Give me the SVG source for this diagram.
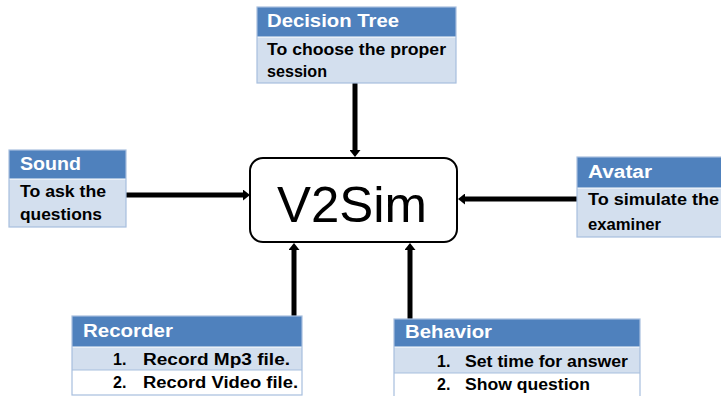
<svg xmlns="http://www.w3.org/2000/svg" width="721" height="396" viewBox="0 0 721 396">
<defs>
<style>
.hdr{fill:#4F81BD}
.body{fill:#D3DFEE}
.wrow{fill:#FFFFFF}
.frame{fill:none;stroke:#A7BFDE;stroke-width:1.2}
.sep{stroke:#FFFFFF;stroke-width:1}
.sepb{stroke:#A7BFDE;stroke-width:1}
.ht{font-family:"Liberation Sans",Arial,sans-serif;font-weight:bold;font-size:18px;fill:#FFFFFF}
.bt{font-family:"Liberation Sans",Arial,sans-serif;font-weight:bold;font-size:16px;fill:#000000}
.conn{stroke:#000000;stroke-width:5;fill:none;marker-end:url(#ah)}
</style>
<marker id="ah" markerUnits="userSpaceOnUse" markerWidth="7" markerHeight="11" refX="1" refY="5.5" orient="auto" viewBox="0 0 7 11">
<path d="M0,0 L7,5.5 L0,11 z" fill="#000000"/>
</marker>
</defs>
<rect width="721" height="396" fill="#FFFFFF"/>

<g id="connectors">
<line class="conn" x1="355" y1="83" x2="355" y2="151"/>
<line class="conn" x1="126" y1="195" x2="244" y2="195"/>
<line class="conn" x1="577" y1="199" x2="464" y2="199"/>
<line class="conn" x1="294" y1="318" x2="294" y2="249"/>
<line class="conn" x1="410" y1="319" x2="410" y2="249"/>
</g>

<g id="v2sim">
<rect x="250" y="158" width="207" height="84" rx="13" ry="13" fill="#FFFFFF" stroke="#000000" stroke-width="2"/>
<text x="352" y="222" text-anchor="middle" font-family="'Liberation Sans',Arial,sans-serif" font-size="50" fill="#000000" textLength="150" lengthAdjust="spacingAndGlyphs">V2Sim</text>
</g>

<g id="decision-tree">
<rect class="hdr" x="257" y="7" width="199" height="30"/>
<rect class="body" x="257" y="37" width="199" height="46"/>
<line class="sep" x1="257" y1="37" x2="456" y2="37"/>
<rect class="frame" x="257" y="7" width="199" height="76"/>
<text class="ht" x="267" y="27" textLength="132" lengthAdjust="spacingAndGlyphs">Decision Tree</text>
<text class="bt" x="267" y="55" textLength="179" lengthAdjust="spacingAndGlyphs">To choose the proper</text>
<text class="bt" x="267" y="77" textLength="60" lengthAdjust="spacingAndGlyphs">session</text>
</g>

<g id="sound">
<rect class="hdr" x="9" y="150" width="117" height="29"/>
<rect class="body" x="9" y="179" width="117" height="48"/>
<line class="sep" x1="9" y1="179" x2="126" y2="179"/>
<rect class="frame" x="9" y="150" width="117" height="77"/>
<text class="ht" x="20" y="170" textLength="61" lengthAdjust="spacingAndGlyphs">Sound</text>
<text class="bt" x="20" y="197" textLength="86" lengthAdjust="spacingAndGlyphs">To ask the</text>
<text class="bt" x="20" y="220" textLength="82" lengthAdjust="spacingAndGlyphs">questions</text>
</g>

<g id="avatar">
<rect class="hdr" x="577" y="157" width="150" height="31"/>
<rect class="body" x="577" y="188" width="150" height="49"/>
<line class="sep" x1="577" y1="188" x2="727" y2="188"/>
<rect class="frame" x="577" y="157" width="150" height="80"/>
<text class="ht" x="588" y="178" textLength="64" lengthAdjust="spacingAndGlyphs">Avatar</text>
<text class="bt" x="588" y="205" textLength="131" lengthAdjust="spacingAndGlyphs">To simulate the</text>
<text class="bt" x="588" y="230" textLength="73" lengthAdjust="spacingAndGlyphs">examiner</text>
</g>

<g id="recorder">
<rect class="hdr" x="72" y="316" width="230" height="31"/>
<rect class="body" x="72" y="347" width="230" height="23"/>
<rect class="wrow" x="72" y="370" width="230" height="25"/>
<line class="sep" x1="72" y1="347" x2="302" y2="347"/>
<line class="sepb" x1="72" y1="370" x2="302" y2="370"/>
<rect class="frame" x="72" y="316" width="230" height="79"/>
<text class="ht" x="83" y="337" textLength="90" lengthAdjust="spacingAndGlyphs">Recorder</text>
<text class="bt" x="113" y="365">1.</text>
<text class="bt" x="143" y="365" textLength="147" lengthAdjust="spacingAndGlyphs">Record Mp3 file.</text>
<text class="bt" x="113" y="388">2.</text>
<text class="bt" x="143" y="388" textLength="155" lengthAdjust="spacingAndGlyphs">Record Video file.</text>
</g>

<g id="behavior">
<rect class="hdr" x="394" y="319" width="246" height="28"/>
<rect class="body" x="394" y="347" width="246" height="26"/>
<rect class="wrow" x="394" y="373" width="246" height="30"/>
<line class="sep" x1="394" y1="347" x2="640" y2="347"/>
<line class="sepb" x1="394" y1="373" x2="640" y2="373"/>
<rect class="frame" x="394" y="319" width="246" height="84"/>
<text class="ht" x="405" y="338" textLength="87" lengthAdjust="spacingAndGlyphs">Behavior</text>
<text class="bt" x="437" y="367">1.</text>
<text class="bt" x="465" y="367" textLength="163" lengthAdjust="spacingAndGlyphs">Set time for answer</text>
<text class="bt" x="437" y="390">2.</text>
<text class="bt" x="465" y="390" textLength="125" lengthAdjust="spacingAndGlyphs">Show question</text>
</g>
</svg>
